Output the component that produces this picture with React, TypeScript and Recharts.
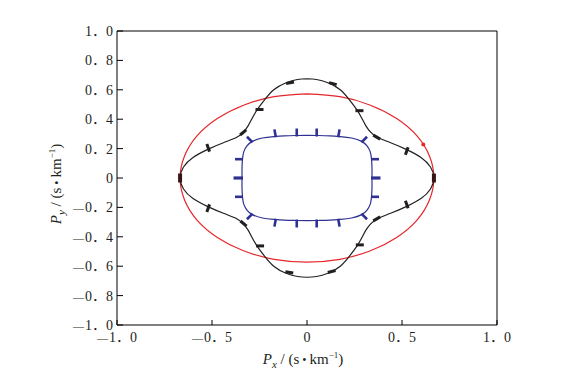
import React from 'react';
import { ComposedChart, XAxis, YAxis, Scatter, ReferenceArea } from 'recharts';

// ---- tick values and labels ----
const xTickValues = [-1, -0.5, 0, 0.5, 1];
const xTickLabels = ['—1．0', '—0．5', '0', '0．5', '1．0'];
const yTickValues = [-1, -0.8, -0.6, -0.4, -0.2, 0, 0.2, 0.4, 0.6, 0.8, 1];
const yTickLabels = ['—1．0', '—0．8', '—0．6', '—0．4', '—0．2', '0', '0．2', '0．4', '0．6', '0．8', '1．0'];

// ---- curves (Px, Py), clockwise from the top ----
const redCurve: number[][] = [
  [0, 0.572], [0.173, 0.553], [0.334, 0.495], [0.472, 0.404], [0.579, 0.286], [0.645, 0.148],
  [0.668, 0], [0.645, -0.148], [0.579, -0.286], [0.472, -0.404], [0.334, -0.495], [0.173, -0.553],
  [0, -0.572], [-0.173, -0.553], [-0.334, -0.495], [-0.472, -0.404], [-0.579, -0.286], [-0.645, -0.148],
  [-0.668, 0], [-0.645, 0.148], [-0.579, 0.286], [-0.472, 0.404], [-0.334, 0.495], [-0.173, 0.553],
  [0, 0.572],
];

const blackCurve: number[][] = [
  [0, 0.675], [0.05, 0.67], [0.11, 0.648], [0.175, 0.6], [0.226, 0.527], [0.262, 0.465], [0.287, 0.41],
  [0.31, 0.355], [0.335, 0.312], [0.372, 0.275], [0.44, 0.24], [0.522, 0.195], [0.6, 0.14], [0.65, 0.075],
  [0.668, 0],
  [0.65, -0.075], [0.6, -0.14], [0.522, -0.195], [0.44, -0.24], [0.372, -0.275], [0.335, -0.312],
  [0.31, -0.355], [0.287, -0.41], [0.262, -0.465], [0.226, -0.527], [0.175, -0.6], [0.11, -0.648],
  [0.05, -0.67], [0, -0.675],
  [-0.05, -0.67], [-0.11, -0.648], [-0.175, -0.6], [-0.226, -0.527], [-0.262, -0.465], [-0.287, -0.41],
  [-0.31, -0.355], [-0.335, -0.312], [-0.372, -0.275], [-0.44, -0.24], [-0.522, -0.195], [-0.6, -0.14],
  [-0.65, -0.075], [-0.668, 0],
  [-0.65, 0.075], [-0.6, 0.14], [-0.522, 0.195], [-0.44, 0.24], [-0.372, 0.275], [-0.335, 0.312],
  [-0.31, 0.355], [-0.287, 0.41], [-0.262, 0.465], [-0.226, 0.527], [-0.175, 0.6], [-0.11, 0.648],
  [-0.05, 0.67], [0, 0.675],
];

const blueCurve: number[][] = [
  [0, 0.29], [0.06, 0.289], [0.12, 0.287], [0.175, 0.282], [0.235, 0.272], [0.288, 0.249], [0.316, 0.218],
  [0.332, 0.181], [0.339, 0.135], [0.342, 0.07], [0.342, 0],
  [0.342, -0.07], [0.339, -0.135], [0.332, -0.181], [0.316, -0.218], [0.288, -0.249], [0.235, -0.272],
  [0.175, -0.282], [0.12, -0.287], [0.06, -0.289], [0, -0.29],
  [-0.06, -0.289], [-0.12, -0.287], [-0.175, -0.282], [-0.235, -0.272], [-0.288, -0.249], [-0.316, -0.218],
  [-0.332, -0.181], [-0.339, -0.135], [-0.342, -0.07], [-0.342, 0],
  [-0.342, 0.07], [-0.339, 0.135], [-0.332, 0.181], [-0.316, 0.218], [-0.288, 0.249], [-0.235, 0.272],
  [-0.175, 0.282], [-0.12, 0.287], [-0.06, 0.289], [0, 0.29],
];

// ---- markers: [Px, Py, direction in degrees] ----
const blackMarkers: number[][] = [
  [-0.089, 0.648, 10], [0.136, 0.642, -15],
  [-0.25, 0.466, 0], [0.276, 0.458, 0],
  [-0.336, 0.31, 40], [0.367, 0.278, -30],
  [-0.52, 0.205, 110], [0.525, 0.184, 70],
  [-0.52, -0.205, 70], [0.525, -0.18, 110],
  [-0.334, -0.31, -40], [0.367, -0.278, 30],
  [-0.247, -0.462, 0], [0.278, -0.455, 0],
  [-0.093, -0.642, -10], [0.13, -0.636, 15],
];
const blackEndMarkers: number[][] = [
  [-0.668, 0, 90], [0.668, 0, 90],
];
const blueTicks: number[][] = [
  [-0.165, 0.284, 100], [-0.054, 0.289, 90], [0.051, 0.289, 90], [0.165, 0.284, 80],
  [-0.29, 0.247, 135], [0.29, 0.247, 45],
  [0.342, 0.128, 0], [0.342, -0.128, 0], [-0.342, 0.128, 180], [-0.342, -0.128, 180],
  [-0.29, -0.247, 225], [0.29, -0.247, 315],
  [-0.165, -0.284, 260], [-0.054, -0.289, 270], [0.051, -0.289, 270], [0.165, -0.284, 280],
];
const blueMidTicks: number[][] = [
  [0.342, 0, 0], [-0.342, 0, 180],
];
const redMarkers: number[][] = [[0.612, 0.228]];

const RED = '#e5262b';
const BLUE = '#2e3192';
const BLACK = '#231f20';
const TEXT = '#231f20';
const TICK_FONT = "'Liberation Serif', 'Noto Sans CJK SC', serif";

const toPts = (arr: number[][]) => arr.map(([x, y, angle]) => ({ x, y, angle }));

const Nothing = () => <g />;

const makeDash = (len: number, width: number, color: string) => (props: any) => {
  const { cx, cy, payload } = props;
  if (cx == null || cy == null) return <g />;
  const a = (payload.angle * Math.PI) / 180;
  const dx = (Math.cos(a) * len) / 2;
  const dy = (-Math.sin(a) * len) / 2;
  return <line x1={cx - dx} y1={cy - dy} x2={cx + dx} y2={cy + dy} stroke={color} strokeWidth={width} />;
};

const makeTick = (len: number, width: number, color: string) => (props: any) => {
  const { cx, cy, payload } = props;
  if (cx == null || cy == null) return <g />;
  const a = (payload.angle * Math.PI) / 180;
  const ux = Math.cos(a);
  const uy = -Math.sin(a);
  return (
    <line x1={cx - ux * 1} y1={cy - uy * 1} x2={cx + ux * len} y2={cy + uy * len} stroke={color} strokeWidth={width} />
  );
};

const RedDot = (props: any) => {
  const { cx, cy } = props;
  if (cx == null || cy == null) return <g />;
  return <circle cx={cx} cy={cy} r={2} fill={RED} />;
};

// renders a label, drawing the leading dash a little smaller
const LabelText = ({ label }: { label: string }) => {
  if (label.startsWith('—')) {
    return (
      <>
        <tspan fontSize={11}>—</tspan>
        <tspan dx={1}>{label.slice(1)}</tspan>
      </>
    );
  }
  return <>{label}</>;
};

const XTick = (props: any) => {
  const { x, y, payload } = props;
  const i = xTickValues.indexOf(payload.value);
  return (
    <g>
      <line x1={x} x2={x} y1={y} y2={y - 5} stroke="#000" strokeWidth={1} />
      <text x={x} y={y + 17} textAnchor="middle" fontSize={14} fontFamily={TICK_FONT} fill={TEXT}>
        <LabelText label={xTickLabels[i]} />
      </text>
    </g>
  );
};

const YTick = (props: any) => {
  const { x, y, payload } = props;
  const i = yTickValues.findIndex((v) => Math.abs(v - payload.value) < 1e-9);
  return (
    <g>
      <line x1={x} x2={x + 6} y1={y} y2={y} stroke="#000" strokeWidth={1} />
      <text x={x - 4} y={y + 5} textAnchor="end" fontSize={14} fontFamily={TICK_FONT} fill={TEXT}>
        <LabelText label={yTickLabels[i]} />
      </text>
    </g>
  );
};

const TITLE_FONT = "'Liberation Serif', serif";

const XTitle = (props: any) => {
  const vb = props.viewBox || {};
  const cx = vb.x + vb.width / 2 - 4;
  const y = vb.y + 39;
  return (
    <text x={cx} y={y} textAnchor="middle" fontSize={15} fontFamily={TITLE_FONT} fill={TEXT}>
      <tspan fontStyle="italic">P</tspan>
      <tspan fontStyle="italic" fontSize={11} dy={4}>x</tspan>
      <tspan dy={-4}> / (s</tspan>
      <tspan fontSize={12}> • </tspan>
      <tspan>km</tspan>
      <tspan fontSize={9} dy={-6}>−1</tspan>
      <tspan dy={6}>)</tspan>
    </text>
  );
};

const YTitle = (props: any) => {
  const vb = props.viewBox || {};
  const x = vb.x + 53;
  const cy = vb.y + vb.height / 2 + 6;
  return (
    <text
      x={x}
      y={cy}
      transform={`rotate(-90, ${x}, ${cy})`}
      textAnchor="middle"
      fontSize={15}
      fontFamily={TITLE_FONT}
      fill={TEXT}
    >
      <tspan fontStyle="italic">P</tspan>
      <tspan fontStyle="italic" fontSize={11} dy={4}>y</tspan>
      <tspan dy={-4}> / (s</tspan>
      <tspan fontSize={12}> • </tspan>
      <tspan>km</tspan>
      <tspan fontSize={9} dy={-6}>−1</tspan>
      <tspan dy={6}>)</tspan>
    </text>
  );
};

export default function App() {
  return (
    <div style={{ width: 556, height: 364 }}>
      <ComposedChart width={556} height={364} margin={{ top: 23, right: 67, bottom: 0, left: 0 }}>
        <XAxis
          type="number"
          dataKey="x"
          domain={[-1, 1]}
          ticks={xTickValues}
          allowDataOverflow
          axisLine={false}
          tickLine={false}
          tickSize={0}
          tickMargin={0}
          tick={XTick}
          interval={0}
          height={47}
          label={{ content: XTitle }}
        />
        <YAxis
          type="number"
          dataKey="y"
          domain={[-1, 1]}
          ticks={yTickValues}
          allowDataOverflow
          axisLine={false}
          tickLine={false}
          tickSize={0}
          tickMargin={0}
          tick={YTick}
          interval={0}
          width={109}
          label={{ content: YTitle }}
        />
        <ReferenceArea x1={-1} x2={1} y1={-1} y2={1} fill="none" stroke="#000" strokeWidth={1} ifOverflow="visible" />
        <Scatter
          data={toPts(redCurve)}
          line={{ stroke: RED, strokeWidth: 1.2 }}
          lineJointType="natural"
          shape={Nothing}
          isAnimationActive={false}
        />
        <Scatter
          data={toPts(blackCurve)}
          line={{ stroke: BLACK, strokeWidth: 1.2 }}
          lineJointType="natural"
          shape={Nothing}
          isAnimationActive={false}
        />
        <Scatter
          data={toPts(blueCurve)}
          line={{ stroke: BLUE, strokeWidth: 1.2 }}
          lineJointType="natural"
          shape={Nothing}
          isAnimationActive={false}
        />
        <Scatter data={toPts(blackMarkers)} shape={makeDash(8, 3, BLACK)} isAnimationActive={false} />
        <Scatter data={toPts(blackEndMarkers)} shape={makeDash(9, 4, '#3a1414')} isAnimationActive={false} />
        <Scatter data={toPts(blueTicks)} shape={makeTick(7, 2.6, BLUE)} isAnimationActive={false} />
        <Scatter data={toPts(blueMidTicks)} shape={makeTick(8.5, 3.2, BLUE)} isAnimationActive={false} />
        <Scatter data={toPts(redMarkers)} shape={RedDot} isAnimationActive={false} />
      </ComposedChart>
    </div>
  );
}
